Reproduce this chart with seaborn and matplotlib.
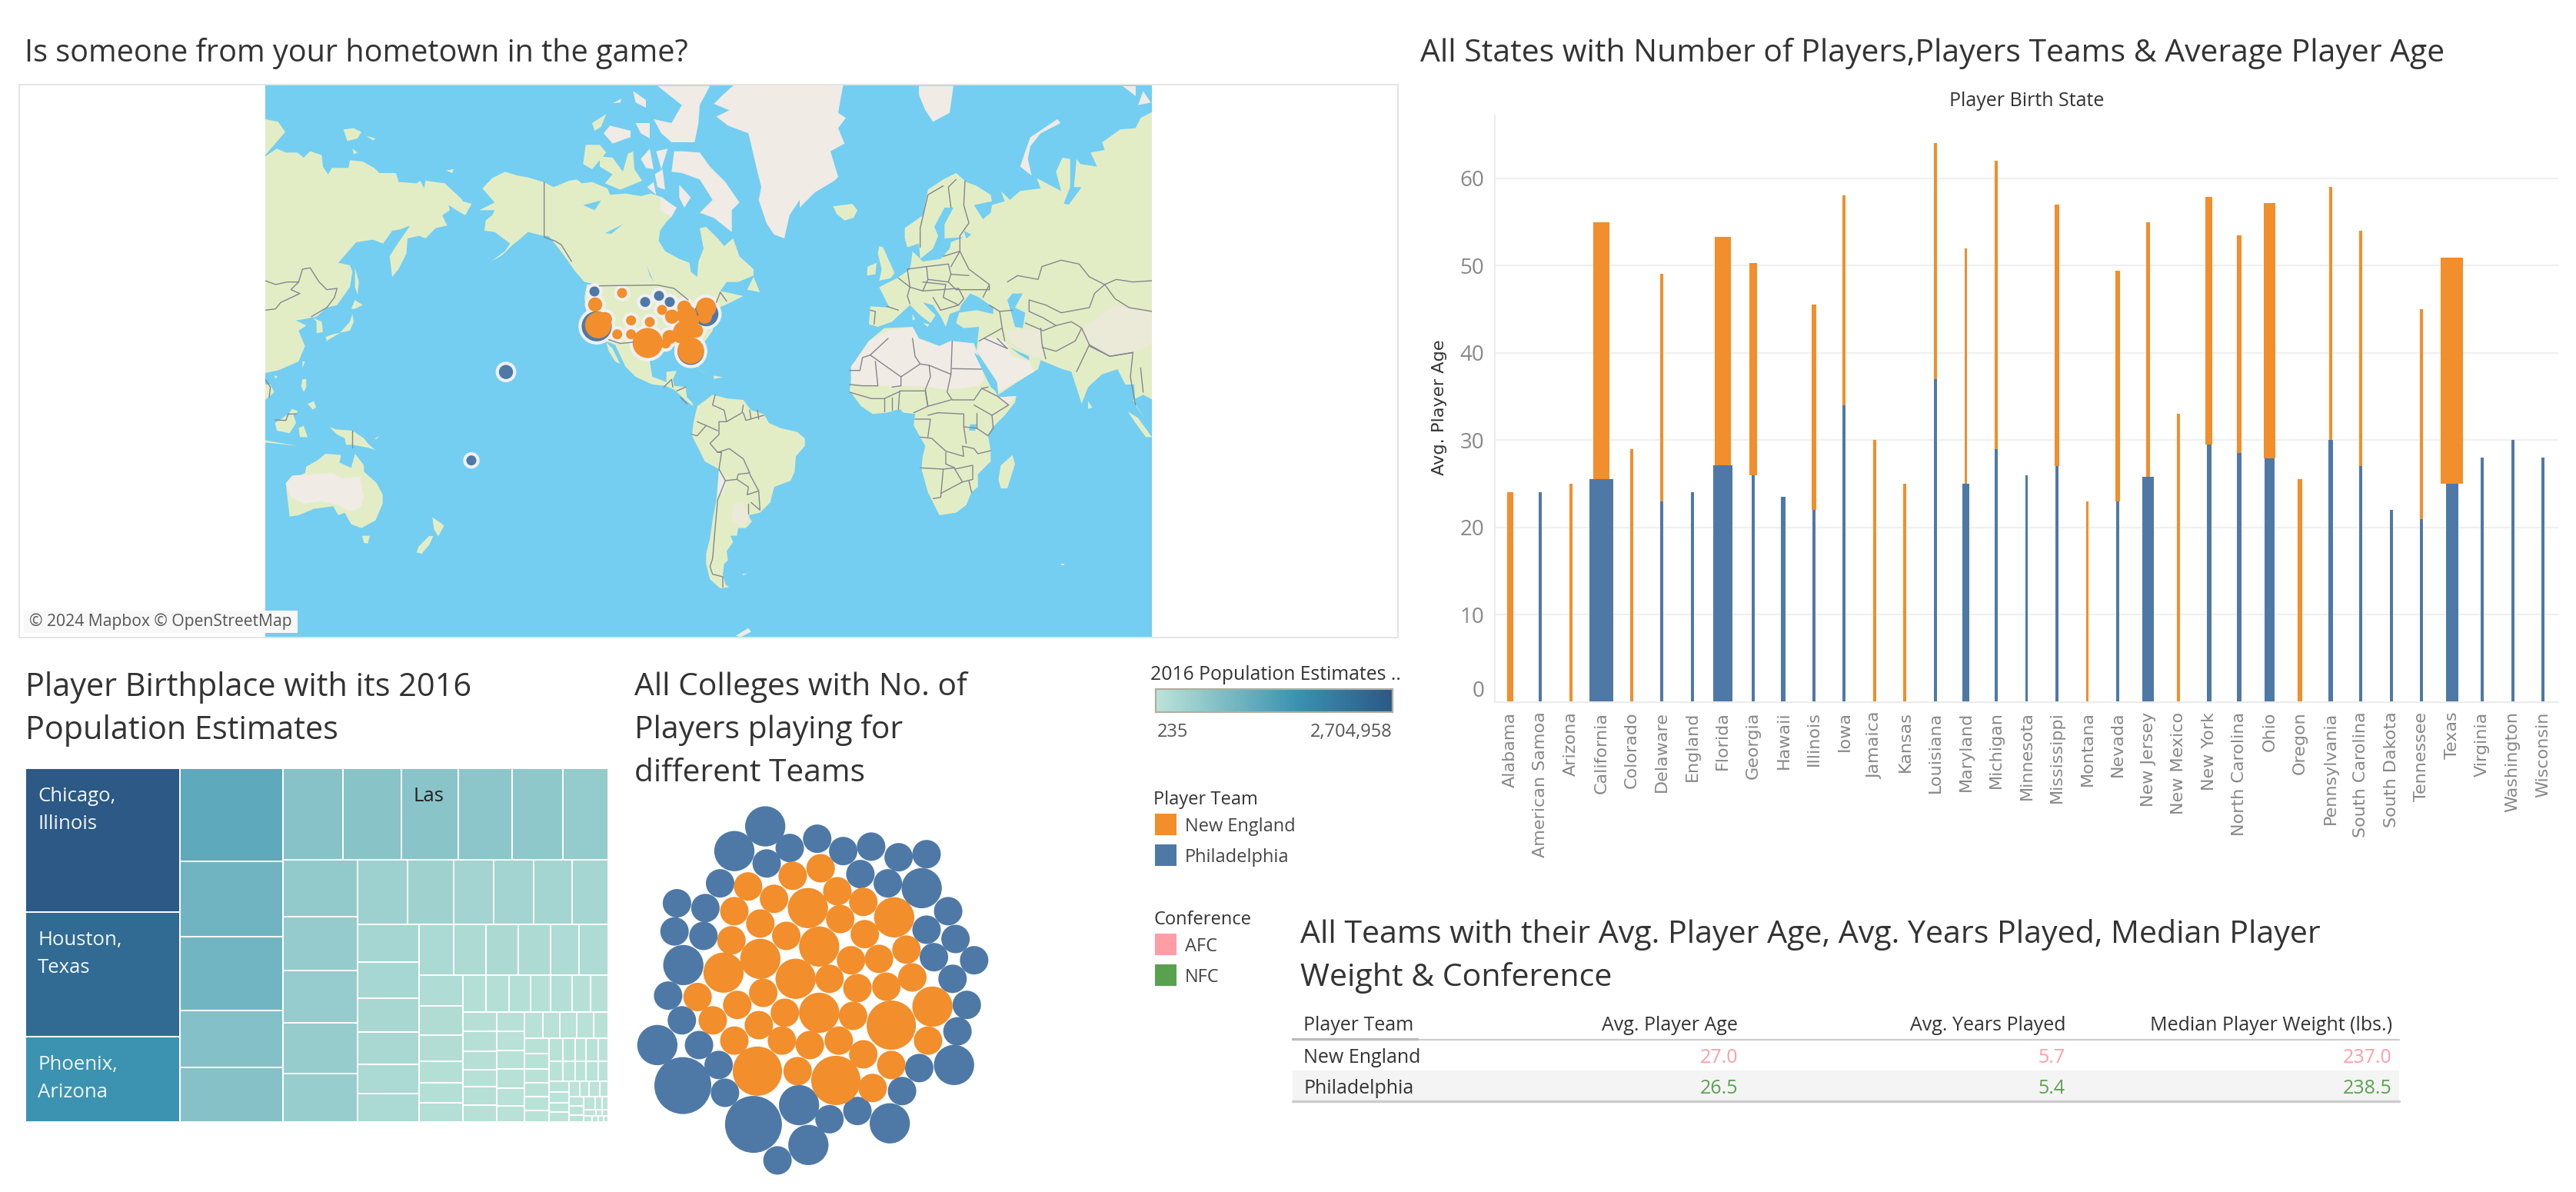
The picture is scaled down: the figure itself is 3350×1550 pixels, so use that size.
import numpy as np
import pandas as pd
import matplotlib
matplotlib.use("Agg")
import matplotlib.pyplot as plt
from matplotlib.colors import LinearSegmentedColormap
from matplotlib.patches import Rectangle
import seaborn as sns

W, H = 3350, 1550
ORANGE = "#f28e2b"
BLUE = "#4e79a7"
TEXT = "#333333"
LAND = "#e3edc5"
SAND = "#f0ebe4"
HIGHLAND = "#ebe9d8"
WATER = "#73cef2"
BODY_FONT = ["Open Sans", "DejaVu Sans"]

# bars: average age per team and number of players per team
states = ["Alabama", "American Samoa", "Arizona", "California", "Colorado", "Delaware", "England",
          "Florida", "Georgia", "Hawaii", "Illinois", "Iowa", "Jamaica", "Kansas", "Louisiana",
          "Maryland", "Michigan", "Minnesota", "Mississippi", "Montana", "Nevada", "New Jersey",
          "New Mexico", "New York", "North Carolina", "Ohio", "Oregon", "Pennsylvania",
          "South Carolina", "South Dakota", "Tennessee", "Texas", "Virginia", "Washington", "Wisconsin"]
phi_age = [0, 24, 0, 25.5, 0, 23, 24, 27.1, 26, 23.5, 22, 34, 0, 0, 37, 25, 29, 26, 27, 0, 23, 25.8,
           0, 29.5, 28.5, 27.9, 0, 30, 27, 22, 21, 25, 28, 30, 28]
ne_age = [24, 0, 25, 29.5, 29, 26.1, 0, 26.2, 24.3, 0, 23.5, 24, 30, 25, 27, 27, 33, 0, 30, 23, 26.4,
          29.2, 33, 28.4, 25, 29.3, 25.5, 29, 27, 0, 24, 25.9, 0, 0, 0]
phi_players = [0, 1, 0, 15, 0, 1, 1, 12, 1, 2, 1, 1, 0, 0, 1, 4, 1, 1, 1, 0, 1, 7, 0, 2, 2, 6, 0, 2,
               1, 1, 1, 7, 1, 1, 1]
ne_players = [3, 0, 1, 10, 1, 1, 0, 10, 4, 0, 2, 1, 1, 1, 1, 1, 1, 0, 2, 1, 2, 2, 1, 4, 2, 7, 2, 1,
              1, 0, 1, 14, 0, 0, 0]
age_ticks = [0, 10, 20, 30, 40, 50, 60]

# treemap strips: (direction, population in thousands)
tree_strips = [
    ("col", [2705, 2349, 1610]),
    ("col", [1165, 947, 928, 714, 688]),
    ("row", [674, 651, 638, 597, 570, 507]),
    ("col", [519, 494, 480, 466, 446]),
    ("row", [387, 362, 315, 312, 299, 286]),
    ("col", [288, 267, 256, 242, 219, 215]),
    ("row", [212, 199, 202, 199, 179, 179]),
    ("col", [164, 155, 139, 114, 105, 103]),
    ("row", [104, 106, 96, 91, 98, 84, 80]),
    ("col", [81, 81, 75, 71, 76, 68]),
    ("col", [67, 63, 63, 67, 59, 55]),
    ("row", [59, 54, 54, 54, 47]),
    ("col", [46, 46, 42, 41, 43, 34]),
    ("row", [39, 34, 31, 34, 28]),
    ("row", [35, 30, 28, 30, 25]),
    ("col", [26, 26, 22, 25]),
    ("row", [20, 17, 19, 16]),
    ("col", [18, 16, 13]),
    ("row", [18, 12, 10]),
    ("row", [9, 5, 4.5]),
    ("row", [6, 4.5, 4, 3.5]),
]
tree_labels = {2705: ["Chicago,", "Illinois"], 2349: ["Houston,", "Texas"], 1610: ["Phoenix,", "Arizona"],
               638: ["Las"]}

# packed bubbles
phi_bubble_x = [306, 243, 356, 412, 465, 522, 578, 635, 309, 500, 214, 556, 625, 679, 126, 184, 121, 180,
                635, 694, 650, 732, 139, 688, 108, 717, 136, 698, 171, 86, 211, 620, 691, 138, 224, 585,
                375, 282, 437, 494, 560, 394, 331]
phi_bubble_y = [503, 575, 566, 539, 575, 562, 593, 584, 611, 642, 669, 669, 683, 750, 727, 741, 809, 822,
                804, 831, 884, 893, 907, 947, 996, 1023, 1068, 1100, 1140, 1140, 1198, 1207, 1198, 1258,
                1279, 1274, 1315, 1371, 1356, 1332, 1368, 1431, 1476]
phi_bubble_n = [2, 2, 1, 1, 1, 1, 1, 1, 1, 1, 1, 1, 2, 1, 1, 1, 1, 1, 1, 1, 1, 1, 2, 1, 1, 1, 1, 1, 1, 2,
                1, 1, 2, 4, 1, 1, 2, 4, 1, 1, 2, 2, 1]
ne_bubble_x = [271, 362, 419, 324, 453, 506, 243, 393, 459, 569, 296, 237, 349, 509, 416, 296, 594, 481,
               538, 221, 368, 437, 606, 494, 553, 302, 168, 647, 249, 346, 416, 485, 563, 199, 293, 638,
               243, 340, 456, 397, 506, 563, 290, 372, 450, 525]
ne_bubble_y = [678, 647, 625, 714, 692, 723, 750, 741, 773, 768, 786, 835, 822, 817, 853, 889, 862, 893,
               889, 929, 947, 947, 943, 974, 970, 988, 1000, 1028, 1023, 1046, 1046, 1055, 1082, 1068,
               1082, 1127, 1127, 1127, 1127, 1140, 1167, 1198, 1216, 1216, 1243, 1265]
ne_bubble_n = [1, 1, 1, 1, 1, 1, 1, 2, 1, 2, 1, 1, 1, 1, 2, 2, 1, 1, 1, 2, 2, 1, 1, 1, 1, 1, 1, 2, 1, 1,
               2, 1, 3, 1, 1, 1, 1, 1, 1, 1, 1, 1, 3, 1, 3, 1]

# map points
phi_map_x = [773, 839, 857, 871, 918.3, 776, 898.3, 658, 613]
phi_map_y = [379, 392.7, 384.7, 392.7, 408.3, 424.3, 457.3, 483.7, 598.7]
phi_map_n = [1, 1, 1, 1, 6, 9, 7, 2, 1]
ne_map_x = [809, 774, 861, 918.3, 916.7, 890, 893.3, 874, 900, 778, 786.7, 802.7, 820.7, 845,
            820.7, 842.3, 865.7, 870.7, 885, 890, 905, 898.3]
ne_map_y = [381, 396, 403, 400, 411.7, 400, 410, 411.7, 416.7, 422.7, 415, 434.7, 416.7, 418.7,
            434.7, 446, 446.7, 438.3, 435, 431.7, 430, 456]
ne_map_n = [1, 2, 1, 4, 2, 2, 4, 2, 2, 7, 2, 1, 1, 1, 1, 9, 1, 2, 3, 5, 2, 7]

# map outlines, each group traced on its own tile (left, top) at 3 units per pixel
tile_na = (540, 110)
land_na = [
    [(262, 405), (300, 365), (350, 340), (400, 355), (440, 362), (500, 380), (540, 400), (600, 375), (630, 370),
     (650, 385), (690, 380), (750, 405), (760, 430), (820, 425), (880, 435), (920, 425), (965, 440), (1000, 470),
     (1020, 480), (1000, 515), (980, 535), (955, 570), (950, 610), (975, 650), (1030, 680), (1070, 695), (1075, 730),
     (1100, 750), (1105, 690), (1125, 640), (1110, 560), (1135, 555), (1180, 600), (1205, 630), (1240, 600),
     (1265, 670), (1320, 720), (1320, 745), (1260, 770), (1215, 770), (1190, 805), (1280, 825), (1220, 855),
     (1185, 870), (1190, 900), (1000, 880), (760, 790), (660, 770), (625, 730), (590, 680), (560, 640), (520, 590),
     (500, 590), (440, 575), (400, 610), (380, 625), (340, 665), (295, 690), (350, 650), (370, 620), (310, 575),
     (270, 570), (275, 530), (300, 510), (310, 490), (250, 490), (310, 460)],
    [(1295, 800), (1320, 750), (1345, 810)],
    [(665, 235), (720, 235), (745, 265), (690, 330), (655, 310)],
    [(720, 280), (770, 285), (810, 340), (830, 270), (850, 260), (855, 330), (885, 375), (800, 410), (740, 385),
     (770, 350), (720, 320)],
    [(690, 150), (745, 115), (725, 165), (700, 180)],
]
sand_na = [
    [(1245, 0), (1560, 0), (1560, 410), (1500, 450), (1460, 510), (1440, 600), (1400, 585), (1370, 540), (1340, 450),
     (1350, 400), (1335, 340), (1300, 190), (1220, 160), (1175, 125), (1225, 100), (1165, 75), (1200, 40)],
    [(1000, 340), (1010, 260), (1040, 260), (1110, 265), (1150, 320), (1210, 380), (1265, 460), (1235, 490),
     (1235, 575), (1165, 520), (1110, 500), (1160, 450), (1110, 370), (1040, 345)],
    [(880, 290), (915, 250), (930, 330), (900, 325)],
    [(940, 260), (985, 250), (960, 330)],
    [(935, 350), (965, 330), (975, 410), (945, 400)],
    [(1030, 390), (1075, 440), (1050, 480), (1030, 440)],
    [(905, 400), (930, 380), (940, 430)],
    [(945, 5), (1150, 5), (1110, 80), (1105, 150), (1090, 225), (1000, 225), (960, 190), (930, 135), (1000, 150),
     (1040, 80)],
    [(850, 25), (900, 60), (900, 90), (860, 70)],
    [(735, 190), (760, 160), (840, 180), (840, 205), (770, 230)],
    [(860, 150), (915, 150), (915, 210), (880, 190)],
    [(775, 70), (805, 55), (800, 70), (775, 72)],
    [(960, 440), (1020, 480), (1000, 515), (955, 490)],
]
water_na = [
    [(655, 470), (725, 452), (700, 490)],
    [(740, 580), (810, 545), (765, 582)],
    [(905, 710), (930, 770), (915, 745)],
]
lines_na = [
    [(503, 382), (503, 595), (545, 610), (570, 625), (610, 690)],
    [(718, 785), (945, 782), (1010, 795), (1065, 840)],
    [(1175, 850), (1190, 810), (1215, 845)],
    [(755, 995), (800, 1010), (850, 1005)],
]

tile_us = (600, 320)
land_us = [
    [(490, 150), (760, 150), (900, 200), (1010, 180), (1030, 200), (1000, 250), (980, 330), (930, 400), (925, 475),
     (895, 440), (845, 390), (790, 380), (735, 450), (745, 510), (800, 530), (800, 490), (840, 487), (825, 520),
     (830, 545), (875, 550), (880, 590), (900, 610), (905, 625), (885, 610), (830, 560), (795, 545), (745, 540),
     (680, 510), (640, 470), (600, 385), (560, 370), (490, 270), (480, 200)],
    [(565, 375), (590, 400), (620, 460), (600, 450), (575, 410)],
    [(905, 470), (960, 500), (940, 490)],
    [(985, 505), (1020, 512), (985, 518)],
]

tile_eur = (1040, 110)
land_eur = [
    [(1378, 105), (1330, 130), (1310, 170), (1250, 175), (1180, 225), (1190, 255), (1135, 265), (1160, 320), (1095, 310),
     (1080, 290), (1070, 400), (1100, 400), (1050, 468), (1030, 465), (1055, 400), (1055, 290), (1025, 285), (1000, 340),
     (1020, 415), (925, 365), (940, 405), (860, 415), (820, 450), (785, 415), (800, 455), (750, 470), (745, 500),
     (715, 525), (680, 470), (750, 455), (745, 430), (690, 395), (650, 380), (610, 345), (560, 370), (500, 410),
     (480, 510), (410, 560), (410, 600), (420, 635), (465, 620), (470, 680), (440, 650), (435, 690), (430, 720),
     (380, 755), (310, 790), (350, 870), (275, 865), (270, 935), (305, 945), (360, 925), (430, 860), (470, 900),
     (510, 930), (530, 900), (480, 850), (520, 860), (550, 905), (570, 945), (585, 895), (625, 880), (610, 930),
     (640, 950), (700, 945), (690, 1035), (770, 1160), (775, 1210), (850, 1160), (930, 1110), (940, 1075), (1025, 1110),
     (1060, 1120), (1100, 1245), (1125, 1180), (1180, 1130), (1240, 1110), (1270, 1170), (1305, 1170), (1310, 1250),
     (1350, 1310), (1300, 1230), (1340, 1210), (1378, 1230)],
    [(310, 630), (325, 635), (370, 735), (355, 755), (310, 765), (320, 720), (305, 660)],
    [(265, 710), (300, 695), (295, 740), (262, 745)],
    [(130, 475), (205, 465), (225, 490), (210, 520), (175, 530), (145, 505)],
    [(480, 930), (505, 935), (500, 945)],
    [(440, 895), (450, 915), (440, 920)],
]
sand_eur = [
    [(0, 0), (170, 0), (150, 110), (180, 130), (150, 170), (175, 230), (120, 260), (150, 360), (135, 375), (60, 420),
     (0, 480)],
    [(1005, 135), (1018, 150), (940, 190), (900, 240), (890, 290), (905, 355), (860, 320), (880, 260), (900, 205)],
    [(465, 5), (600, 5), (585, 110), (520, 145), (490, 100), (465, 40)],
    [(1320, 80), (1340, 25), (1370, 70)],
    [(1260, 5), (1310, 5), (1310, 45)],
]
highland_eur = [
    [(1100, 950), (1230, 860), (1375, 885), (1378, 1010), (1300, 1045), (1210, 1060), (1130, 1015)],
    [(800, 960), (940, 950), (945, 1030), (960, 1070), (900, 1060), (830, 1010)],
]
water_eur = [
    [(630, 860), (665, 815), (700, 830), (755, 870), (755, 895), (690, 880), (620, 890)],
    [(810, 840), (830, 815), (870, 815), (840, 870), (880, 890), (870, 950), (840, 945), (825, 890)],
    [(600, 480), (565, 545), (565, 600), (640, 595), (590, 615), (585, 640), (550, 680), (480, 690), (470, 680),
     (520, 640), (540, 590), (525, 555), (565, 480)],
    [(640, 570), (670, 585), (650, 600)],
]
lines_eur = [
    [(810, 770), (850, 745), (930, 760), (945, 710), (1020, 685), (1090, 700), (1130, 750), (1190, 780), (1235, 760),
     (1300, 770), (1375, 765)],
    [(1190, 780), (1150, 815), (1130, 870), (1020, 890), (960, 860), (895, 840), (895, 885)],
    [(1190, 780), (1230, 835), (1285, 870), (1375, 885)],
    [(645, 375), (640, 470), (660, 540), (625, 590), (625, 650), (660, 720), (680, 735), (740, 780), (715, 830)],
    [(560, 395), (500, 430), (470, 560), (470, 635)],
    [(610, 370), (580, 400), (590, 480)],
    [(495, 710), (580, 700), (590, 740), (660, 745)],
    [(495, 710), (500, 760), (580, 770), (590, 740)],
    [(560, 670), (625, 650), (590, 710)],
    [(420, 720), (495, 710)],
    [(420, 720), (430, 790), (480, 805), (500, 760)],
    [(385, 755), (430, 790), (420, 825), (430, 855)],
    [(340, 865), (385, 880)],
    [(275, 880), (295, 885), (290, 935)],
    [(580, 770), (610, 800), (740, 800), (740, 780)],
    [(480, 805), (620, 795), (640, 835), (620, 860), (550, 880)],
    [(520, 830), (550, 880)],
    [(480, 770), (570, 780), (560, 830), (620, 860)],
    [(780, 885), (790, 950), (800, 1000)],
    [(740, 860), (780, 885), (830, 880)],
    [(940, 950), (945, 1010), (960, 1070)],
    [(880, 930), (950, 960), (1000, 940)],
    [(895, 885), (950, 910), (1000, 940)],
    [(1000, 940), (1060, 925), (1100, 950), (1075, 1000), (1000, 1040), (945, 1025)],
    [(1100, 950), (1130, 1015), (1210, 1060), (1300, 1045)],
    [(1130, 1015), (1080, 1120)],
    [(700, 1000), (790, 950)],
    [(720, 990), (810, 1030)],
]

tile_af = (1040, 440)
land_af = [
    [(215, 90), (270, 10), (330, -40), (440, -45), (465, 0), (545, 30), (590, 10), (680, 20), (690, 50), (760, 200),
     (775, 230), (845, 225), (840, 250), (800, 300), (750, 350), (735, 380), (745, 440), (745, 480), (695, 530),
     (695, 580), (670, 600), (650, 650), (610, 680), (545, 690), (500, 600), (475, 510), (480, 460), (490, 420),
     (470, 385), (445, 340), (450, 295), (405, 290), (390, 275), (340, 290), (285, 295), (240, 265), (195, 205),
     (205, 130), (200, 110)],
    [(830, 455), (840, 490), (810, 585), (785, 585), (775, 550), (785, 495)],
    [(1280, 285), (1320, 310), (1374, 385), (1350, 385), (1310, 330)],
    [(1125, 245), (1142, 270), (1125, 275)],
    [(0, 385), (20, 405), (0, 440)],
]
sand_af = [
    [(200, 110), (215, 90), (270, 10), (345, -30), (440, -45), (465, 0), (545, 30), (590, 10), (680, 20), (690, 50),
     (720, 160), (700, 185), (640, 195), (570, 200), (500, 190), (400, 185), (300, 185), (200, 175)],
    [(690, 50), (770, 170), (775, 210), (850, 165), (915, 130), (895, 90), (830, 70), (800, 10), (720, -10)],
    [(775, 230), (845, 225), (815, 260)],
    [(1020, 885), (1032, 885), (1032, 878), (1020, 878)],
]
water_af = [
    [(820, 35), (860, 65), (895, 85), (895, 70), (850, 50)],
    [(680, 55), (700, 70), (770, 210), (745, 190)],
    [(665, 335), (690, 335), (685, 360), (660, 360)],
]
lines_af = [
    [(345, 0), (275, 65), (395, 150)],
    [(195, 125), (235, 125), (245, 75), (275, 65)],
    [(295, 90), (305, 185), (245, 185), (195, 180)],
    [(440, 0), (450, 70), (470, 100), (395, 150), (395, 185), (360, 190)],
    [(470, 100), (505, 105), (590, 140), (595, 10)],
    [(595, 118), (710, 120)],
    [(505, 105), (510, 150), (490, 200), (500, 265)],
    [(590, 140), (575, 210), (595, 240), (680, 240), (710, 195), (735, 190)],
    [(710, 195), (770, 225), (815, 260), (750, 300), (680, 260)],
    [(750, 300), (755, 350), (735, 380), (690, 350), (640, 345)],
    [(540, 290), (640, 295), (640, 345), (650, 410)],
    [(470, 385), (515, 390), (570, 440), (640, 460), (635, 420), (680, 430), (695, 450), (745, 438)],
    [(470, 505), (560, 510), (605, 505), (570, 490), (570, 445)],
    [(560, 510), (550, 620), (520, 625)],
    [(550, 605), (635, 560), (605, 510)],
    [(635, 560), (675, 550), (675, 495), (605, 510)],
    [(660, 555), (670, 600)],
    [(395, 205), (490, 205), (500, 265), (445, 290)],
    [(195, 210), (280, 235), (330, 235), (395, 205)],
    [(330, 235), (330, 285)],
    [(360, 230), (360, 280)],
    [(390, 205), (385, 275)],
    [(450, 315), (510, 315), (500, 385)],
    [(500, 265), (590, 240)],
    [(500, 300), (540, 290)],
    [(690, 290), (690, 350)],
    [(770, 0), (810, 40)],
    [(1130, 30), (1210, 70), (1300, 55)],
    [(1300, 55), (1290, 150), (1310, 260)],
    [(1330, 115), (1340, 210)],
]

tile_sa = (700, 470)
land_sa = [
    [(620, 175), (640, 160), (680, 130), (740, 145), (800, 150), (830, 190), (880, 205), (900, 240), (945, 260),
     (1010, 275), (1040, 300), (1040, 330), (1005, 370), (1000, 430), (985, 465), (920, 490), (905, 550), (865, 590),
     (820, 600), (833, 625), (810, 650), (780, 650), (775, 680), (750, 680), (760, 705), (735, 740), (740, 775),
     (725, 790), (720, 830), (730, 870), (745, 880), (710, 885), (670, 850), (655, 790), (655, 750), (670, 690),
     (680, 620), (695, 540), (705, 420), (650, 390), (620, 330), (600, 290), (605, 240)],
]
sand_sa = [
    [(705, 420), (735, 470), (720, 520), (700, 520)],
    [(770, 1070), (820, 1040), (830, 1055), (790, 1075)],
    [(795, 830), (818, 826), (800, 834)],
]
highland_sa = [
    [(760, 560), (800, 550), (825, 610), (790, 645), (755, 620)],
]
lines_sa = [
    [(690, 130), (680, 170), (725, 190), (735, 235), (795, 200), (800, 170)],
    [(800, 200), (810, 230), (880, 210)],
    [(825, 190), (830, 225)],
    [(855, 190), (860, 225)],
    [(735, 235), (705, 235), (705, 285), (670, 320), (700, 355), (745, 340), (800, 380), (825, 435), (780, 440),
     (775, 460), (730, 465), (705, 420), (715, 355), (700, 355)],
    [(620, 235), (655, 250), (700, 270)],
    [(655, 250), (620, 290), (600, 285)],
    [(775, 460), (820, 490), (815, 520), (860, 505), (825, 440)],
    [(730, 465), (700, 540), (690, 650), (680, 770), (670, 800), (680, 830), (720, 840), (720, 880)],
    [(830, 550), (865, 580), (860, 505)],
    [(820, 555), (820, 595)],
    [(490, 100), (520, 70), (525, 100)],
    [(540, 115), (575, 100)],
    [(555, 140), (580, 165)],
]

tile_asia = (345, 110)
land_asia = [
    [(0, 280), (45, 250), (80, 265), (125, 265), (150, 285), (175, 260), (220, 275), (225, 320), (245, 350), (260, 325),
     (325, 325), (330, 295), (380, 300), (425, 325), (445, 345), (510, 345), (520, 380), (590, 385), (605, 375),
     (620, 405), (625, 375), (700, 385), (765, 445), (770, 455), (805, 465), (780, 510), (730, 480), (715, 470),
     (720, 490), (690, 510), (710, 550), (665, 560), (625, 600), (600, 590), (555, 600), (550, 660), (520, 720),
     (495, 750), (485, 670), (510, 630), (565, 550), (525, 565), (495, 570), (460, 620), (420, 605), (355, 615),
     (285, 695), (330, 705), (340, 730), (330, 790), (280, 860), (240, 870), (200, 905), (150, 915), (120, 920),
     (160, 940), (130, 960), (155, 1020), (130, 1080), (0, 1080)],
    [(0, 135), (50, 145), (78, 185), (0, 275)],
    [(185, 910), (220, 925), (225, 965), (200, 970), (200, 925)],
    [(340, 895), (345, 925), (330, 960), (260, 975), (235, 985), (240, 1000), (290, 970), (330, 925)],
    [(350, 840), (380, 860), (350, 875), (335, 875)],
    [(350, 715), (365, 770), (360, 820), (350, 790)],
    [(305, 175), (345, 170), (375, 185), (360, 210), (320, 220)],
    [(395, 200), (430, 210), (420, 218)],
    [(340, 250), (360, 265), (345, 272)],
    [(705, 335), (735, 330), (730, 345)],
]
lines_asia = [
    [(0, 765), (40, 780), (85, 770), (130, 770), (145, 720), (175, 715), (210, 770), (240, 800), (280, 795), (270, 830),
     (240, 870), (180, 905)],
    [(130, 770), (100, 800), (135, 815), (60, 850), (40, 875), (0, 880)],
]

tile_oc = (345, 470)
land_oc = [
    [(80, 475), (155, 435), (160, 410), (205, 385), (235, 360), (295, 365), (290, 395), (335, 415), (350, 360), (385, 405),
     (385, 430), (435, 475), (458, 520), (458, 555), (430, 620), (375, 650), (335, 635), (310, 590), (285, 600),
     (265, 565), (190, 575), (130, 600), (95, 605), (85, 520)],
    [(378, 680), (408, 680), (400, 710), (385, 708)],
    [(652, 608), (698, 640), (675, 682), (658, 655)],
    [(640, 680), (655, 682), (640, 715), (610, 750), (590, 745), (600, 720)],
    [(250, 255), (275, 265), (340, 270), (385, 300), (400, 320), (428, 345), (395, 335), (340, 325), (315, 325),
     (310, 300), (280, 285)],
    [(38, 240), (90, 205), (105, 185), (128, 195), (110, 210), (120, 240), (95, 280), (45, 270)],
    [(145, 70), (160, 68), (160, 100), (150, 120), (140, 95)],
    [(165, 165), (190, 155), (198, 180), (185, 188)],
    [(130, 260), (150, 250), (165, 295), (135, 295)],
    [(0, 308), (70, 320), (130, 330), (0, 316)],
    [(0, 90), (20, 90), (35, 120), (0, 150)],
    [(35, 55), (48, 58), (40, 68)],
    [(0, 0), (130, 0), (50, 35), (0, 45)],
    [(145, 0), (155, 0), (145, 25)],
    [(425, 302), (445, 290), (435, 302)],
]
sand_oc = [
    [(80, 475), (105, 445), (260, 435), (300, 455), (370, 450), (385, 530), (370, 570), (330, 585), (280, 560), (220, 545),
     (150, 555), (100, 530)],
]
lines_oc = [
    [(340, 270), (340, 335)],
    [(38, 228), (80, 230), (90, 205), (120, 205)],
    [(0, 70), (20, 100), (15, 140)],
]

map_land = [(tile_na, land_na), (tile_us, land_us), (tile_eur, land_eur), (tile_af, land_af),
            (tile_sa, land_sa), (tile_asia, land_asia), (tile_oc, land_oc)]
map_sand = [(tile_na, sand_na), (tile_eur, sand_eur), (tile_af, sand_af), (tile_sa, sand_sa), (tile_oc, sand_oc)]
map_highland = [(tile_eur, highland_eur), (tile_sa, highland_sa)]
map_water = [(tile_na, water_na), (tile_eur, water_eur), (tile_af, water_af)]
map_lines = [(tile_na, lines_na), (tile_eur, lines_eur), (tile_af, lines_af), (tile_sa, lines_sa),
             (tile_asia, lines_asia), (tile_oc, lines_oc)]


def px_axes(fig, x0, y0, x1, y1):
    # axes placed by pixel box, y counted from the top
    return fig.add_axes([x0 / W, 1 - y1 / H, (x1 - x0) / W, (y1 - y0) / H])


def on_tile(tile, shape):
    pts = np.array(shape, dtype=float)
    return tile[0] + pts[:, 0] / 3, tile[1] + pts[:, 1] / 3


def draw_map(fig):
    ax = px_axes(fig, 345, 110, 1498, 829)
    ax.set_facecolor(WATER)
    for group, colour in [(map_land, LAND), (map_sand, SAND), (map_highland, HIGHLAND), (map_water, WATER)]:
        for tile, shapes in group:
            for shape in shapes:
                ax.fill(*on_tile(tile, shape), color=colour, lw=0)
    for tile, shapes in map_lines:
        for shape in shapes:
            ax.plot(*on_tile(tile, shape), color="#85858f", lw=1.0)

    df = pd.concat([
        pd.DataFrame({"x": phi_map_x, "y": phi_map_y, "n": phi_map_n, "team": "Philadelphia"}),
        pd.DataFrame({"x": ne_map_x, "y": ne_map_y, "n": ne_map_n, "team": "New England"}),
    ])
    area = {n: 88 * n for n in df["n"].unique()}
    sns.scatterplot(data=df, x="x", y="y", size="n", sizes=area, color="#f0f0f0", edgecolor="#f0f0f0",
                    linewidth=6, legend=False, ax=ax)
    sns.scatterplot(data=df, x="x", y="y", hue="team", palette={"Philadelphia": BLUE, "New England": ORANGE},
                    size="n", sizes=area, linewidth=0, legend=False, ax=ax)
    ax.set_xlim(345, 1498)
    ax.set_ylim(829, 110)
    ax.set_xlabel("")
    ax.set_ylabel("")
    ax.set_xticks([])
    ax.set_yticks([])
    sns.despine(ax=ax, left=True, bottom=True)


def set_bars(patches, widths, bottoms):
    for i, (p, w, b) in enumerate(zip(patches, widths, bottoms)):
        p.set_x(i - w / 2)
        p.set_width(w)
        p.set_y(b)


def draw_bars(fig):
    ax = px_axes(fig, 1944, 150, 3327, 913)
    df = pd.DataFrame({"state": states, "phi": phi_age, "ne": ne_age})
    sns.barplot(data=df, x="state", y="phi", color=BLUE, saturation=1, linewidth=0, ax=ax)
    sns.barplot(data=df, x="state", y="ne", color=ORANGE, saturation=1, linewidth=0, ax=ax)
    n = len(states)
    set_bars(ax.patches[:n], [(2 + 2 * c) / 40.5 for c in phi_players], [0] * n)
    set_bars(ax.patches[n:], [(2 + 2 * c) / 40.5 for c in ne_players], phi_age)

    ax.set_xlim(-0.5, n - 0.5)
    ax.set_ylim(0, 67.2)
    ax.set_yticks(age_ticks)
    ax.yaxis.grid(True, color="#f0f0f0", lw=1.6)
    ax.set_axisbelow(True)
    ax.tick_params(axis="y", length=0, labelsize=20, labelcolor="#888888", pad=10)
    for t in ax.get_yticklabels():
        t.set_family(["Open Sans", "DejaVu Sans"])
    ax.get_yticklabels()[0].set_va("bottom")
    ax.set_xticks(np.arange(n))
    ax.set_xticklabels(states, rotation=90, fontsize=16, color="#888888", family="DejaVu Sans")
    ax.set_xticks(np.arange(n + 1) - 0.5, minor=True)
    ax.tick_params(axis="x", which="major", length=0, pad=9)
    ax.tick_params(axis="x", which="minor", length=6, color="#e6e6e6", width=1.2)
    ax.set_xlabel("")
    ax.set_ylabel("")
    sns.despine(ax=ax, top=True, right=True)
    for side in ["left", "bottom"]:
        ax.spines[side].set_color("#ececec")
        ax.spines[side].set_linewidth(1.4)


def draw_treemap(fig):
    x0, y0, x1, y1 = 33, 999, 791, 1459
    ax = px_axes(fig, x0, y0, x1, y1)
    cmap = LinearSegmentedColormap.from_list("tree", [(0, "#bce4d8"), (0.6, "#3a92b1"), (1, "#2c5985")])
    top = max(max(v) for _, v in tree_strips)
    left = sum(sum(v) for _, v in tree_strips)
    x, y, w, h = 0.0, 0.0, float(x1 - x0), float(y1 - y0)
    for direction, values in tree_strips:
        share = sum(values) / left
        pos = 0.0
        for v in values:
            part = v / sum(values)
            if direction == "col":
                cell = (x, y + pos * h, w * share, h * part)
            else:
                cell = (x + pos * w, y, w * part, h * share)
            pos += part
            ax.add_patch(Rectangle(cell[:2], cell[2], cell[3], facecolor=cmap(v / top), edgecolor="white", lw=1.4))
            if v in tree_labels:
                colour = "#f2f6f8" if v > 1000 else "#222222"
                off = 16
                for i, line in enumerate(tree_labels[v]):
                    ax.text(cell[0] + off, cell[1] + 37 + i * 36, line, color=colour, fontsize=18.5,
                            va="center", family=BODY_FONT)
        if direction == "col":
            x += w * share
            w -= w * share
        else:
            y += h * share
            h -= h * share
        left -= sum(values)
    ax.set_xlim(0, x1 - x0)
    ax.set_ylim(y1 - y0, 0)
    ax.axis("off")


def draw_bubbles(fig):
    ax = px_axes(fig, 800, 850, 1800, 1550)
    df = pd.concat([
        pd.DataFrame({"x": phi_bubble_x, "y": phi_bubble_y, "n": phi_bubble_n, "team": "Philadelphia"}),
        pd.DataFrame({"x": ne_bubble_x, "y": ne_bubble_y, "n": ne_bubble_n, "team": "New England"}),
    ])
    sns.scatterplot(data=df, x="x", y="y", hue="team", palette={"Philadelphia": BLUE, "New England": ORANGE},
                    size="n", sizes={1: 710, 2: 1420, 3: 2130, 4: 2840}, linewidth=0, legend=False, ax=ax)
    ax.set_xlim(0, 1568)
    ax.set_ylim(1568, 0)
    ax.axis("off")


def draw_overlay(fig):
    ax = fig.add_axes([0, 0, 1, 1], zorder=5)
    ax.set_xlim(0, W)
    ax.set_ylim(H, 0)
    ax.axis("off")

    def label(x, y, s, size=17, color=TEXT, ha="left", family=BODY_FONT):
        # Open Sans sits a little high when centred
        shift = 4 if size > 25 else 2
        ax.text(x, y + shift, s, fontsize=size, color=color, ha=ha, va="center", family=family)

    # titles
    label(32, 66, "Is someone from your hometown in the game?", 28.5)
    label(1847, 66, "All States with Number of Players,Players Teams & Average Player Age", 29.4)
    label(33, 890, "Player Birthplace with its 2016", 29.9)
    label(33, 946, "Population Estimates", 29.9)
    label(825, 890, "All Colleges with No. of", 29.3)
    label(825, 946, "Players playing for", 29.3)
    label(825, 1002, "different Teams", 29.3)
    label(1691, 1212, "All Teams with their Avg. Player Age, Avg. Years Played, Median Player", 29.6)
    label(1691, 1268, "Weight & Conference", 29.6)
    label(2636, 130, "Player Birth State", 18, ha="center")
    ax.text(1872, 530, "Avg. Player Age", fontsize=16.2, color=TEXT, rotation=90, ha="center", va="center",
            family="DejaVu Sans")

    # map frame and credit
    for yy in [110, 829]:
        ax.plot([25, 1818], [yy, yy], color="#e4e4e4", lw=1.4)
    for xx in [25, 1818]:
        ax.plot([xx, xx], [110, 829], color="#e4e4e4", lw=1.4)
    ax.add_patch(Rectangle((31, 794), 356, 29, facecolor="#f8f8f8", edgecolor="none"))
    label(38, 806, "© 2024 Mapbox © OpenStreetMap", 15.2, "#555555")

    # legends
    label(1496, 876, "2016 Population Estimates ..", 17.8)
    label(1505, 950, "235", 17, "#555555")
    label(1811, 950, "2,704,958", 17, "#555555", ha="right")
    label(1500, 1038, "Player Team", 17)
    for yy, team, colour in [(1058, "New England", ORANGE), (1098, "Philadelphia", BLUE)]:
        ax.add_patch(Rectangle((1502, yy), 28, 28, facecolor=colour, edgecolor="none"))
        label(1541, yy + 15, team, 17, "#444444")
    label(1500, 1194, "Conference", 17)
    for yy, conf, colour in [(1214, "AFC", "#ff9da7"), (1254, "NFC", "#59a14f")]:
        ax.add_patch(Rectangle((1502, yy), 28, 28, facecolor=colour, edgecolor="none"))
        label(1541, yy + 15, conf, 17, "#444444")

    # table
    ax.add_patch(Rectangle((1681, 1392), 1439, 40, facecolor="#f4f4f4", edgecolor="none"))
    ax.plot([1681, 3120], [1352, 1352], color="#cccccc", lw=1.6)
    ax.plot([1681, 1843], [1351, 1351], color="#bbbbbb", lw=2.4)
    ax.plot([1681, 3120], [1432, 1432], color="#cccccc", lw=2.4)
    label(1695, 1332, "Player Team", 18)
    for xx, head, ne_val, phi_val in [(2260, "Avg. Player Age", "27.0", "26.5"),
                                      (2686, "Avg. Years Played", "5.7", "5.4"),
                                      (3111, "Median Player Weight (lbs.)", "237.0", "238.5")]:
        label(xx, 1332, head, 18, ha="right")
        label(xx, 1373, ne_val, 18, "#ff9da7", ha="right")
        label(xx, 1414, phi_val, 18, "#59a14f", ha="right")
    label(1695, 1373, "New England", 18)
    label(1695, 1414, "Philadelphia", 18)


def draw_colorbar(fig):
    ax = px_axes(fig, 1503, 896, 1811, 926)
    cmap = LinearSegmentedColormap.from_list("tree", [(0, "#bce4d8"), (0.6, "#3a92b1"), (1, "#2c5985")])
    ax.imshow(np.linspace(0, 1, 300).reshape(1, -1), cmap=cmap, aspect="auto")
    ax.set_xticks([])
    ax.set_yticks([])
    for s in ax.spines.values():
        s.set_color("#b3ae9e")
        s.set_linewidth(1.6)


sns.set_theme(style="white")
plt.rcParams["font.family"] = BODY_FONT
fig = plt.figure(figsize=(W / 100, H / 100), dpi=100, facecolor="white")
draw_map(fig)
draw_bars(fig)
draw_treemap(fig)
draw_bubbles(fig)
draw_colorbar(fig)
draw_overlay(fig)
fig.savefig("out.png", dpi=100)
plt.close(fig)
